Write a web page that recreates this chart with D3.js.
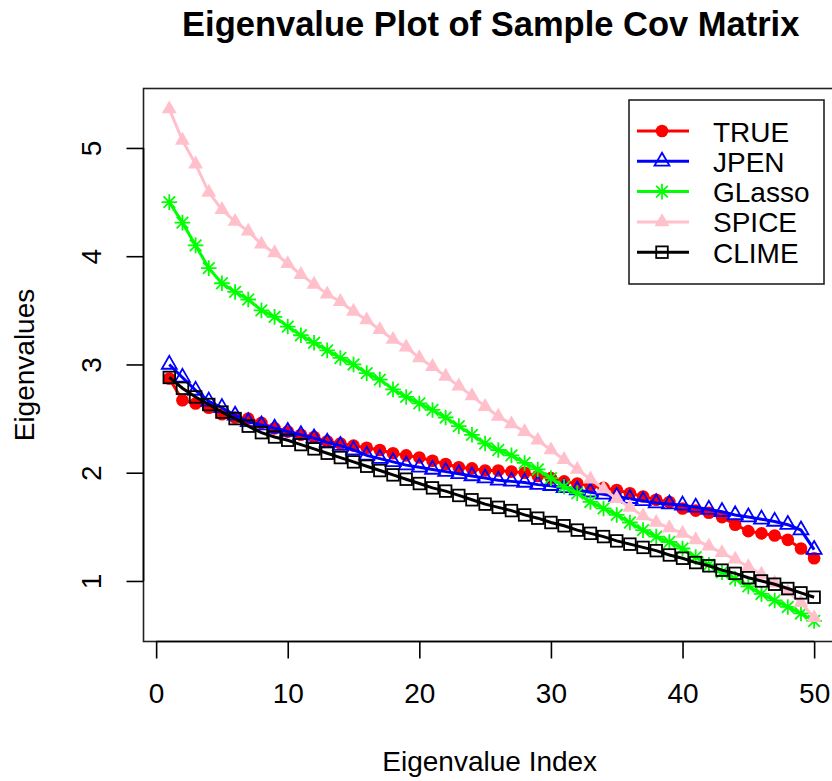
<!DOCTYPE html>
<html>
<head>
<meta charset="utf-8">
<script src="https://cdn.jsdelivr.net/npm/d3@7"></script>
<style>
  body { margin: 0; background: #fff; }
  svg text { font-family: "Liberation Sans", Arial, sans-serif; fill: #000; }
</style>
</head>
<body>
<div id="chart"></div>
<script>
    // eigenvalue index (x)
    var Index = [1,2,3,4,5,6,7,8,9,10,11,12,13,14,15,16,17,18,19,20,21,22,23,24,25,
                 26,27,28,29,30,31,32,33,34,35,36,37,38,39,40,41,42,43,44,45,46,47,48,49,50];

    // values
    var TRUE_vals = [2.87,2.67,2.64,2.60,2.54,2.51,2.50,2.46,2.41,2.38,2.35,2.33,2.29,2.27,2.25,2.23,2.21,2.18,2.16,2.14,
                     2.11,2.08,2.05,2.04,2.02,2.02,2.01,2.00,1.97,1.95,1.92,1.90,1.88,1.86,1.84,1.81,1.78,1.75,1.73,1.67,
                     1.65,1.63,1.59,1.52,1.46,1.44,1.42,1.38,1.30,1.21];
    var JPEN_vals = [3.00,2.88,2.76,2.66,2.60,2.53,2.47,2.44,2.41,2.38,2.35,2.32,2.28,2.25,2.21,2.16,2.13,2.10,2.07,2.05,
                     2.03,2.01,1.99,1.97,1.95,1.93,1.92,1.91,1.89,1.88,1.86,1.84,1.82,1.80,1.78,1.76,1.74,1.72,1.71,1.70,
                     1.68,1.66,1.64,1.61,1.59,1.57,1.55,1.52,1.47,1.29];
    var GLasso_vals = [4.50,4.31,4.10,3.89,3.75,3.67,3.60,3.50,3.44,3.35,3.27,3.20,3.13,3.06,3.00,2.92,2.86,2.77,2.70,2.64,
                       2.58,2.51,2.43,2.35,2.27,2.21,2.16,2.09,2.03,1.95,1.87,1.81,1.73,1.67,1.61,1.54,1.47,1.41,1.36,1.30,
                       1.22,1.15,1.08,1.02,0.95,0.88,0.82,0.76,0.70,0.63];
    var SPICE_vals = [5.36,5.07,4.85,4.59,4.43,4.32,4.23,4.11,4.03,3.93,3.83,3.74,3.65,3.58,3.49,3.41,3.32,3.23,3.16,3.06,
                      2.98,2.89,2.80,2.71,2.61,2.52,2.45,2.38,2.30,2.21,2.12,2.03,1.94,1.85,1.76,1.68,1.60,1.54,1.49,1.44,
                      1.38,1.32,1.26,1.20,1.13,1.06,0.98,0.90,0.80,0.66];
    var CLIME_vals = [2.88,2.78,2.70,2.63,2.56,2.50,2.43,2.37,2.33,2.30,2.26,2.22,2.18,2.14,2.10,2.06,2.02,1.98,1.94,1.90,
                      1.86,1.83,1.79,1.75,1.71,1.68,1.65,1.61,1.58,1.54,1.51,1.47,1.44,1.41,1.37,1.34,1.31,1.28,1.24,1.21,
                      1.17,1.14,1.10,1.07,1.03,1.00,0.97,0.93,0.89,0.85];

    var SeriesNames = ["TRUE","JPEN","GLasso","SPICE","CLIME"];
    var SeriesValues = [TRUE_vals, JPEN_vals, GLasso_vals, SPICE_vals, CLIME_vals];
    var SeriesColors = ["#ff0000","#0000ff","#00ff00","#ffc0cb","#000000"];
    var SeriesSymbols = ["circle","triangleOpen","asterisk","triangle","square"];

    var xTicks = [0,10,20,30,40,50];
    var yTicks = [1,2,3,4,5];

    var width = 832, height = 781;
    var plotLeft = 143.5, plotTop = 88.5, plotBottom = 641.5;
    var fontSize = 28;

function drawChart(){
    var svg = d3.select("#chart")
                .append("svg")
                .attr("width", width)
                .attr("height", height)

    svg.append("rect").attr("width", width).attr("height", height).style("fill", "#fff")

    // R style axis ranges: data range extended by 4%
    var xr = d3.extent(Index)
    var xpad = (xr[1] - xr[0]) * 0.04
    var allY = [].concat.apply([], SeriesValues)
    var yr = d3.extent(allY)
    var ypad = (yr[1] - yr[0]) * 0.04

    var unitX = 13.16
    var x = d3.scaleLinear()
              .domain([xr[0] - xpad, xr[1] + xpad])
              .range([plotLeft, plotLeft + (xr[1] - xr[0] + 2 * xpad) * unitX])
    var y = d3.scaleLinear()
              .domain([yr[0] - ypad, yr[1] + ypad])
              .range([plotBottom, plotTop])

    var plotRight = x.range()[1]

    // title
    svg.append("text")
       .attr("x", (plotLeft + plotRight) / 2 - 1).attr("y", 36)
       .attr("text-anchor", "middle")
       .style("font-size", "34.5px").style("font-weight", "bold")
       .text("Eigenvalue Plot of Sample Cov Matrix")

    // plot box
    svg.append("rect")
       .attr("x", plotLeft).attr("y", plotTop)
       .attr("width", plotRight - plotLeft).attr("height", plotBottom - plotTop)
       .style("fill", "none").style("stroke", "#222").style("stroke-width", 1.6)

    // x axis
    var xAxis = svg.append("g")
       .attr("transform", "translate(0," + plotBottom + ")")
       .call(d3.axisBottom(x).tickValues(xTicks).tickFormat(d3.format("d")).tickSize(17).tickSizeOuter(0))
    xAxis.select(".domain").remove()
    xAxis.append("line")
         .attr("x1", x(xTicks[0])).attr("x2", x(xTicks[xTicks.length - 1]))
         .attr("stroke", "#000").attr("stroke-width", 1.6)
    xAxis.selectAll(".tick line").attr("stroke-width", 1.6)
    xAxis.selectAll(".tick text")
         .attr("y", 61.5).attr("dy", 0)
         .style("font-size", fontSize + "px").style("font-family", "Liberation Sans, Arial, sans-serif")

    // y axis, labels parallel to the axis like base R
    var yAxis = svg.append("g")
       .attr("transform", "translate(" + plotLeft + ",0)")
       .call(d3.axisLeft(y).tickValues(yTicks).tickFormat(d3.format("d")).tickSize(17).tickSizeOuter(0))
    yAxis.select(".domain").remove()
    yAxis.append("line")
         .attr("y1", y(yTicks[0])).attr("y2", y(yTicks[yTicks.length - 1]))
         .attr("stroke", "#000").attr("stroke-width", 1.6)
    yAxis.selectAll(".tick line").attr("stroke-width", 1.6)
    yAxis.selectAll(".tick text")
         .attr("x", 0).attr("dy", 0)
         .attr("transform", "translate(-42.5,0) rotate(-90)")
         .attr("text-anchor", "middle")
         .style("font-size", fontSize + "px").style("font-family", "Liberation Sans, Arial, sans-serif")

    // axis titles
    svg.append("text")
       .attr("x", (plotLeft + plotRight) / 2 - 2).attr("y", 771)
       .attr("text-anchor", "middle").style("font-size", fontSize + "px")
       .text("Eigenvalue Index")
    svg.append("text")
       .attr("transform", "translate(34," + ((plotTop + plotBottom) / 2) + ") rotate(-90)")
       .attr("text-anchor", "middle").style("font-size", fontSize + "px")
       .text("Eigenvalues")

    var line = d3.line()
                 .x(function(d){ return x(d[0]) })
                 .y(function(d){ return y(d[1]) })

    var plotArea = svg.append("g")

    for(var s = 0; s < SeriesNames.length; s++){
        let pts = Index.map(function(v, k){ return [v, SeriesValues[s][k]] })
        plotArea.append("path")
                .datum(pts)
                .attr("d", line)
                .style("fill", "none")
                .style("stroke", SeriesColors[s])
                .style("stroke-width", 3)
        for(var k = 0; k < pts.length; k++){
            drawSymbol(plotArea, SeriesSymbols[s], x(pts[k][0]), y(pts[k][1]), SeriesColors[s])
        }
    }

    // legend
    var lg = {left: 629, top: 100, right: 824, bottom: 284}
    svg.append("rect")
       .attr("x", lg.left).attr("y", lg.top)
       .attr("width", lg.right - lg.left).attr("height", lg.bottom - lg.top)
       .style("fill", "#fff").style("stroke", "#222").style("stroke-width", 1.6)

    for(var i = 0; i < SeriesNames.length; i++){
        let ly = 131 + 30.3 * i
        svg.append("line")
           .attr("x1", 637).attr("x2", 689).attr("y1", ly).attr("y2", ly)
           .style("stroke", SeriesColors[i]).style("stroke-width", 3)
        drawSymbol(svg, SeriesSymbols[i], 662, ly, SeriesColors[i])
        svg.append("text")
           .attr("x", 713).attr("y", ly + 10.5)
           .style("font-size", fontSize + "px")
           .text(SeriesNames[i])
    }
}

// base R plotting characters 16, 2, 8, 17, 0
function drawSymbol(g, kind, cx, cy, color){
    if(kind == "circle"){
        g.append("circle").attr("cx", cx).attr("cy", cy).attr("r", 6.3).style("fill", color)
    }
    else if(kind == "triangle" || kind == "triangleOpen"){
        let r = 8.6
        let p = [[cx, cy - r], [cx + r * 0.866, cy + r * 0.5], [cx - r * 0.866, cy + r * 0.5]]
        g.append("path")
         .attr("d", "M" + p.join("L") + "Z")
         .style("fill", kind == "triangle" ? color : "none")
         .style("stroke", color).style("stroke-width", kind == "triangle" ? 0 : 1.8)
    }
    else if(kind == "square"){
        let h = 5.8
        g.append("rect").attr("x", cx - h).attr("y", cy - h).attr("width", 2 * h).attr("height", 2 * h)
         .style("fill", "none").style("stroke", color).style("stroke-width", 1.8)
    }
    else if(kind == "asterisk"){
        let a = 7.8, b = 5.8
        let d = "M" + (cx - a) + "," + cy + "L" + (cx + a) + "," + cy +
                "M" + cx + "," + (cy - a) + "L" + cx + "," + (cy + a) +
                "M" + (cx - b) + "," + (cy - b) + "L" + (cx + b) + "," + (cy + b) +
                "M" + (cx - b) + "," + (cy + b) + "L" + (cx + b) + "," + (cy - b)
        g.append("path").attr("d", d).style("fill", "none").style("stroke", color).style("stroke-width", 1.8)
    }
}

drawChart();
</script>
</body>
</html>
